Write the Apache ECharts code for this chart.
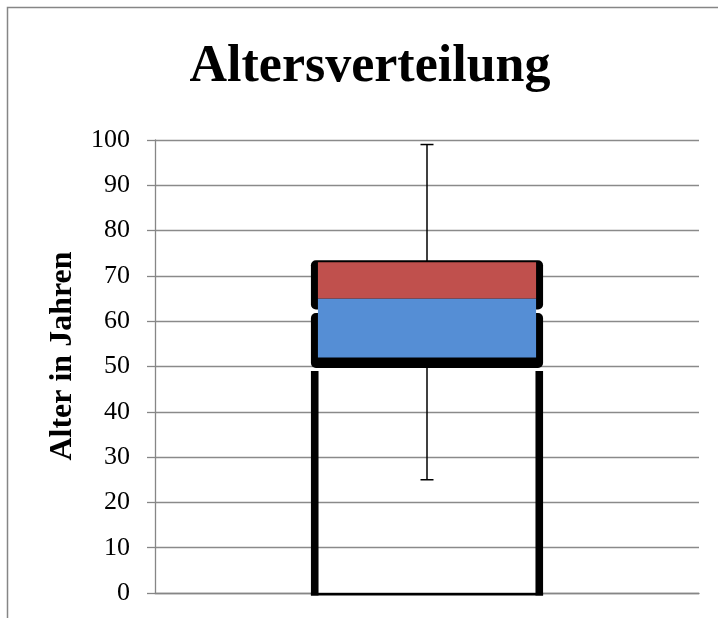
<!DOCTYPE html>
<html>
<head>
<meta charset="utf-8">
<script src="https://cdn.jsdelivr.net/npm/echarts@6/dist/echarts.min.js"></script>
<style>
  html, body { margin: 0; padding: 0; background: #ffffff; }
  #chart { width: 718px; height: 618px; }
</style>
</head>
<body>
<div id="chart"></div>
<script>
// Age distribution drawn as a box plot (stacked columns + whiskers)
const categories = ['Alter'];
const minAge    = [25];
const q1Age     = [52];
const medianAge = [65];
const q3Age     = [73];
const maxAge    = [99];
const yTickMin = 0;
const yTickMax = 100;
const yTickStep = 10;

// Stacked segment heights built from the quartiles
const baseSegment  = q1Age.slice();
const lowerBoxSeg  = medianAge.map((m, i) => m - q1Age[i]);
const upperBoxSeg  = q3Age.map((q, i) => q - medianAge[i]);

const SERIF = '"Liberation Serif", "DejaVu Serif", serif';
const BOX_WIDTH_RATIO = 0.401;   // share of the category band used by the box fill
const EDGE = 7;                  // thickness of the dark outline outside the fill

const chart = echarts.init(document.getElementById('chart'), null, { renderer: 'canvas' });

function renderOutline(params, api) {
  const idx = api.value(0);
  const x = api.coord([idx, 0])[0];
  const band = api.size([1, 0])[0];
  const half = band * BOX_WIDTH_RATIO / 2;
  const L = x - half - EDGE;
  const W = 2 * (half + EDGE);
  const yMin = api.coord([idx, api.value(1)])[1];
  const yQ1  = api.coord([idx, api.value(2)])[1];
  const yMed = api.coord([idx, api.value(3)])[1];
  const yQ3  = api.coord([idx, api.value(4)])[1];
  const yMax = api.coord([idx, api.value(5)])[1];
  const y0   = api.coord([idx, 0])[1];
  const lineStyle = { stroke: '#000', lineWidth: 1.5 };
  const black = { fill: '#000' };
  const capHalf = 6.5;
  return {
    type: 'group',
    children: [
      // whisker from minimum to maximum
      { type: 'line', shape: { x1: x, y1: yMax, x2: x, y2: yMin }, style: lineStyle },
      { type: 'line', shape: { x1: x - capHalf, y1: yMax, x2: x + capHalf, y2: yMax }, style: lineStyle },
      { type: 'line', shape: { x1: x - capHalf, y1: yMin, x2: x + capHalf, y2: yMin }, style: lineStyle },
      // heavy outline around the upper quartile box
      { type: 'rect', shape: { x: L, y: yQ3 - 2, width: W, height: (yMed + 11) - (yQ3 - 2), r: 5 }, style: black },
      // heavy outline around the lower quartile box
      { type: 'rect', shape: { x: L, y: yMed + 14.5, width: W, height: (yQ1 + 10.6) - (yMed + 14.5), r: 5 }, style: black },
      // open base column: two sides and a thin floor
      { type: 'rect', shape: { x: L, y: yQ1 + 13.5, width: EDGE + 0.6, height: (y0 + 2.5) - (yQ1 + 13.5) }, style: black },
      { type: 'rect', shape: { x: L + W - EDGE - 0.6, y: yQ1 + 13.5, width: EDGE + 0.6, height: (y0 + 2.5) - (yQ1 + 13.5) }, style: black },
      { type: 'rect', shape: { x: L, y: y0, width: W, height: 2.5 }, style: black }
    ]
  };
}

const option = {
  animation: false,
  backgroundColor: '#ffffff',
  grid: { left: 155, right: 19, top: 140, bottom: 25, containLabel: false, outerBoundsMode: 'none' },
  graphic: [
    { type: 'rect', z: -10, silent: true,
      shape: { x: 7.5, y: 7.5, width: 900, height: 900 },
      style: { fill: 'none', stroke: '#868686', lineWidth: 1.5 } },
    { type: 'text', x: 370, y: 68,
      style: { text: 'Altersverteilung', font: 'bold 52px ' + SERIF, fill: '#000',
               textAlign: 'center', textVerticalAlign: 'middle' } },
    { type: 'text', x: 63, y: 356, rotation: Math.PI / 2,
      style: { text: 'Alter in Jahren', font: 'bold 32px ' + SERIF, fill: '#000',
               textAlign: 'center', textVerticalAlign: 'middle' } }
  ],
  xAxis: {
    type: 'category',
    data: categories,
    axisLine: { show: true, lineStyle: { color: '#868686', width: 1.3 } },
    axisTick: { show: false },
    axisLabel: { show: false },
    splitLine: { show: false }
  },
  yAxis: {
    type: 'value',
    min: yTickMin,
    max: yTickMax,
    interval: yTickStep,
    axisLine: { show: true, lineStyle: { color: '#868686', width: 1.3 } },
    axisTick: { show: true, length: 8, lineStyle: { color: '#868686', width: 1.3 } },
    axisLabel: { margin: 25, color: '#000', fontFamily: SERIF, fontSize: 26 },
    splitLine: { show: true, lineStyle: { color: '#8a8a8a', width: 1.3 } }
  },
  series: [
    {
      type: 'custom',
      z: 1,
      renderItem: renderOutline,
      data: categories.map((c, i) => [i, minAge[i], q1Age[i], medianAge[i], q3Age[i], maxAge[i]]),
      encode: { x: 0, y: [1, 5] },
      silent: true
    },
    {
      name: 'Basis', type: 'bar', stack: 'box', z: 2,
      barWidth: (BOX_WIDTH_RATIO * 100) + '%',
      data: baseSegment,
      itemStyle: { color: 'rgba(255,255,255,0)' }
    },
    {
      name: 'Q1 bis Median', type: 'bar', stack: 'box', z: 2,
      barWidth: (BOX_WIDTH_RATIO * 100) + '%',
      data: lowerBoxSeg,
      itemStyle: { color: '#558ED5' }
    },
    {
      name: 'Median bis Q3', type: 'bar', stack: 'box', z: 2,
      barWidth: (BOX_WIDTH_RATIO * 100) + '%',
      data: upperBoxSeg,
      itemStyle: { color: '#C0504D' }
    }
  ]
};

chart.setOption(option);
</script>
</body>
</html>
